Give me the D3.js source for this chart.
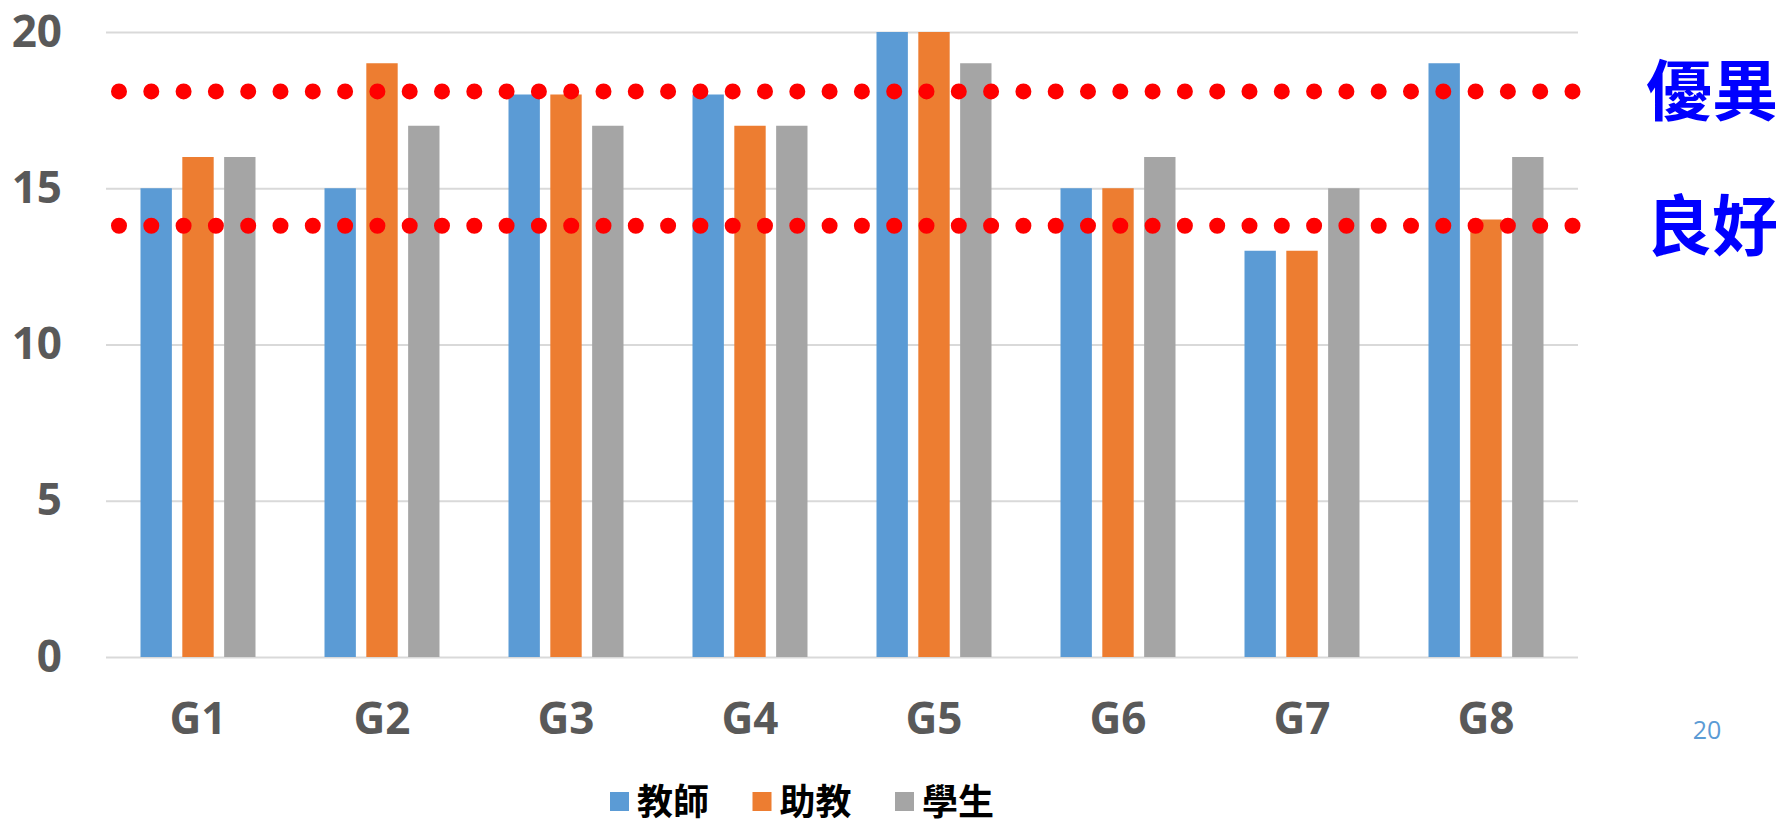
<!DOCTYPE html>
<html>
<head>
<meta charset="utf-8">
<script src="https://cdn.jsdelivr.net/npm/d3@7"></script>
<style>
  html, body { margin: 0; padding: 0; background: #fff; }
  svg { display: block; }
</style>
</head>
<body>
<svg id="chart" width="1784" height="827"></svg>
<script>
const groups = ['G1', 'G2', 'G3', 'G4', 'G5', 'G6', 'G7', 'G8']
const seriesNames = ['教師', '助教', '學生']
const teacher = [15, 15, 18, 18, 20, 15, 13, 19]
const assistant = [16, 19, 18, 17, 20, 15, 13, 14]
const student = [16, 17, 17, 17, 19, 16, 15, 16]
const yTicks = [0, 5, 10, 15, 20]
const levels = [18.1, 13.8]
const levelLabels = ['優異', '良好']
const pageNumber = '20'

const colors = ['#5B9BD5', '#ED7D31', '#A5A5A5']
const dimension = { left: 106, right: 1578, top: 32, bottom: 657 }

const rows = groups.map((g, i) => ({
  group: g,
  values: [teacher[i], assistant[i], student[i]]
}))

const svg = d3.select('#chart')

const x0 =
  d3.scaleBand()
    .domain(groups)
    .range([dimension.left, dimension.right])
    .paddingInner(0.375)
    .paddingOuter(0.1875)

const x1 =
  d3.scaleBand()
    .domain(seriesNames)
    .range([0, x0.bandwidth()])
    .paddingInner(0.25)

const y =
  d3.scaleLinear()
    .domain([0, 20])
    .range([dimension.bottom, dimension.top])

// gridlines + y labels
const yAxis =
  d3.axisLeft(y)
    .tickValues(yTicks)
    .tickSize(-(dimension.right - dimension.left))
    .tickPadding(44)

svg.append('g')
  .attr('class', 'chart__y-axis')
  .attr('transform', `translate(${dimension.left}, 0)`)
  .call(yAxis)
  .call(g => g.select('.domain').remove())
  .call(g => g.selectAll('line').attr('stroke', '#D9D9D9').attr('stroke-width', 2))
  .call(g => g.selectAll('text')
    .attr('fill', '#595959')
    .attr('font-family', '"Open Sans", sans-serif')
    .attr('font-weight', 700)
    .attr('font-size', 44))

// bars
const groupSel =
  svg.append('g')
    .selectAll('.group')
    .data(rows)
    .enter()
    .append('g')
    .attr('class', 'group')
    .attr('transform', d => `translate(${x0(d.group)}, 0)`)

groupSel.selectAll('rect')
  .data(d => d.values.map((v, i) => ({ key: seriesNames[i], value: v, i })))
  .enter()
  .append('rect')
  .attr('x', d => x1(d.key))
  .attr('y', d => y(d.value))
  .attr('width', x1.bandwidth())
  .attr('height', d => y(0) - y(d.value))
  .attr('fill', d => colors[d.i])

// x labels
const xAxis =
  d3.axisBottom(x0)
    .tickSize(0)
    .tickPadding(46)

svg.append('g')
  .attr('class', 'chart__x-axis')
  .attr('transform', `translate(0, ${dimension.bottom})`)
  .call(xAxis)
  .call(g => g.select('.domain').remove())
  .call(g => g.selectAll('text')
    .attr('fill', '#595959')
    .attr('font-family', '"Open Sans", sans-serif')
    .attr('font-weight', 700)
    .attr('font-size', 44))

// dotted threshold lines
svg.append('g')
  .selectAll('line')
  .data(levels)
  .enter()
  .append('line')
  .attr('x1', 119)
  .attr('x2', 1573)
  .attr('y1', d => y(d))
  .attr('y2', d => y(d))
  .attr('stroke', '#FF0000')
  .attr('stroke-width', 16)
  .attr('stroke-linecap', 'round')
  .attr('stroke-dasharray', '0 32.3')

// level labels
svg.append('g')
  .selectAll('text')
  .data(levels)
  .enter()
  .append('text')
  .attr('x', 1778)
  .attr('y', d => y(d))
  .attr('dy', '0.36em')
  .attr('text-anchor', 'end')
  .attr('fill', '#0000FF')
  .attr('font-family', '"Noto Sans CJK TC", sans-serif')
  .attr('font-weight', 700)
  .attr('font-size', 66)
  .text((d, i) => levelLabels[i])

// legend
const legend =
  svg.append('g')
    .attr('transform', 'translate(610, 792)')

const item =
  legend.selectAll('g')
    .data(seriesNames)
    .enter()
    .append('g')
    .attr('transform', (d, i) => `translate(${i * 142.5}, 0)`)

item.append('rect')
  .attr('width', 19)
  .attr('height', 19)
  .attr('fill', (d, i) => colors[i])

item.append('text')
  .attr('x', 27)
  .attr('y', 10)
  .attr('dy', '0.36em')
  .attr('fill', '#000')
  .attr('font-family', '"Noto Sans CJK TC", sans-serif')
  .attr('font-weight', 700)
  .attr('font-size', 36)
  .text(d => d)

// page number
svg.append('text')
  .attr('x', 1707)
  .attr('y', 739)
  .attr('text-anchor', 'middle')
  .attr('fill', '#5B9BD5')
  .attr('font-family', '"Open Sans", sans-serif')
  .attr('font-size', 25)
  .text(pageNumber)
</script>
</body>
</html>
